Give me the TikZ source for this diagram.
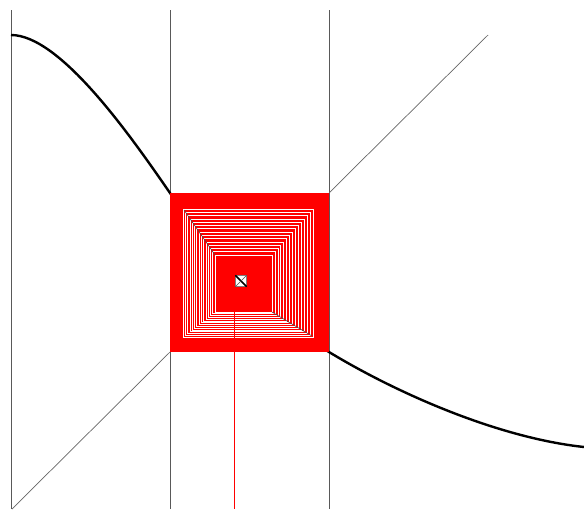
\documentclass[tikz,border=0pt]{standalone}
\begin{document}
\begin{tikzpicture}[x=1pt,y=-1pt,
  axisline/.style={draw=black!65,line width=0.8pt},
  diagline/.style={draw=black!60,line width=0.7pt},
  curveline/.style={draw=black,line width=2.4pt},
  webline/.style={draw=white,line width=0.6pt},
  cornerline/.style={draw=black!70,line width=0.6pt}]
\useasboundingbox (0,0) rectangle (584,509);
% vertical lines
\coordinate (v1t) at (11,10);  \coordinate (v1b) at (11,509);
\coordinate (v2t) at (170,10); \coordinate (v2b) at (170,509);
\coordinate (v3t) at (329,10); \coordinate (v3b) at (329,509);
\draw[axisline] (v1t) -- (v1b);
\draw[axisline] (v2t) -- (v2b);
\draw[axisline] (v3t) -- (v3b);
% diagonal
\coordinate (dA) at (12,509);
\coordinate (dB) at (170,352);
\coordinate (dC) at (329,193);
\coordinate (dD) at (488,35);
\draw[diagline] (dA) -- (dB);
\draw[diagline] (dC) -- (dD);
% curve
\coordinate (k0) at (11,35);
\coordinate (k1) at (170,193);
\coordinate (k2) at (329,352);
\coordinate (k3) at (584,447);
\draw[curveline] (k0) .. controls (60,35) and (130,135) .. (k1)
  .. controls (215,258) and (285,325) .. (k2)
  .. controls (400,395) and (500,438) .. (k3);
% red square
\fill[red] (170,193) rectangle (329,352);
% cobweb squares
\foreach \i in {0,...,14}{
  \pgfmathsetmacro{\lx}{183+\i*32/14}
  \pgfmathsetmacro{\ty}{209+\i*46/14}
  \pgfmathsetmacro{\rx}{313-\i*41/14}
  \pgfmathsetmacro{\by}{337-\i*25/14}
  \draw[webline] (\lx,\ty) rectangle (\rx,\by);
}
\coordinate (c1) at (184,210); \coordinate (c2) at (215,255);
\coordinate (c3) at (272,312); \coordinate (c4) at (312,336);
\draw[cornerline] (c1) -- (c2);
\draw[cornerline] (c3) -- (c4);
% red line down
\coordinate (r1) at (234,308); \coordinate (r2) at (234,509);
\draw[red,line width=0.7pt] (r1) -- (r2);
% fixed point marker
\node[draw=black!50,fill=white,minimum size=11pt,inner sep=0pt,line width=0.4pt] (fp) at (241,281) {};
\draw[black,line width=1.5pt] (fp.north west) -- (fp.south east);
\draw[black!70,line width=0.5pt] (fp.north east) -- (fp.south west);
\end{tikzpicture}
\end{document}
